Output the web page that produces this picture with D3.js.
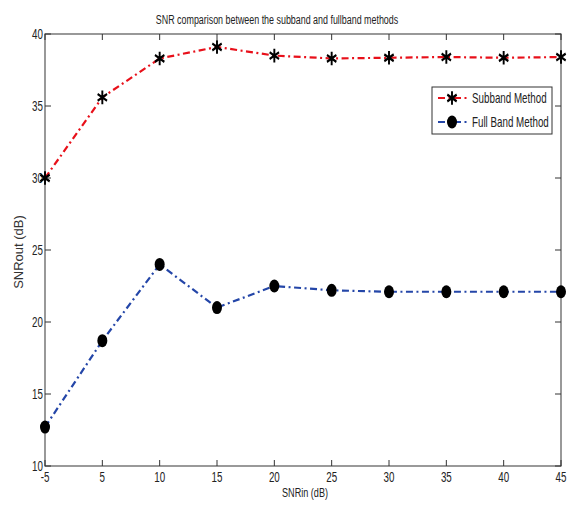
<!DOCTYPE html>
<html>
<head>
<meta charset="utf-8">
<script src="https://cdn.jsdelivr.net/npm/d3@7"></script>
<style>
  body { margin: 0; background: #fff; }
</style>
</head>
<body>
<script>
var snrIn = [-5, 5, 10, 15, 20, 25, 30, 35, 40, 45]
var subband = [30.0, 35.6, 38.3, 39.1, 38.5, 38.3, 38.35, 38.4, 38.35, 38.4]
var fullband = [12.7, 18.7, 24.0, 21.0, 22.5, 22.2, 22.1, 22.1, 22.1, 22.1]
var yTicks = [10, 15, 20, 25, 30, 35, 40]

var drawChart = function() {

  var width = 570
  var height = 508
  var padLeft = 45, padRight = 561, padTop = 34, padBottom = 466
  var squeeze = 0.7

  var svg = d3.select("body")
              .append("svg")
              .attr("width", width)
              .attr("height", height)
              .style("font-family", "Arial, 'Liberation Sans', sans-serif")

  var xScale = d3.scaleLinear()
                 .domain([0, snrIn.length - 1])
                 .range([padLeft, padRight])

  var yScale = d3.scaleLinear()
                 .domain([10, 40])
                 .range([padBottom, padTop])

  // frame
  svg.append("rect")
     .attr("x", padLeft)
     .attr("y", padTop)
     .attr("width", padRight - padLeft)
     .attr("height", padBottom - padTop)
     .attr("fill", "none")
     .attr("stroke", "#555")
     .attr("stroke-width", 1.2)

  // ticks pointing inwards on all four sides
  var xIdx = d3.range(snrIn.length)
  svg.selectAll(".xtb")
     .data(xIdx)
     .enter()
     .append("line")
     .attr("x1", function(d) { return xScale(d) })
     .attr("x2", function(d) { return xScale(d) })
     .attr("y1", padBottom)
     .attr("y2", padBottom - 6)
     .attr("stroke", "#333")
  svg.selectAll(".xtt")
     .data(xIdx)
     .enter()
     .append("line")
     .attr("x1", function(d) { return xScale(d) })
     .attr("x2", function(d) { return xScale(d) })
     .attr("y1", padTop)
     .attr("y2", padTop + 6)
     .attr("stroke", "#333")
  svg.selectAll(".ytl")
     .data(yTicks)
     .enter()
     .append("line")
     .attr("x1", padLeft)
     .attr("x2", padLeft + 6)
     .attr("y1", function(d) { return yScale(d) })
     .attr("y2", function(d) { return yScale(d) })
     .attr("stroke", "#333")
  svg.selectAll(".ytr")
     .data(yTicks)
     .enter()
     .append("line")
     .attr("x1", padRight)
     .attr("x2", padRight - 6)
     .attr("y1", function(d) { return yScale(d) })
     .attr("y2", function(d) { return yScale(d) })
     .attr("stroke", "#333")

  // tick labels (narrow, like the original)
  svg.selectAll(".xlab")
     .data(xIdx)
     .enter()
     .append("text")
     .attr("transform", function(d) {
       return "translate(" + xScale(d) + "," + (padBottom + 16) + ") scale(" + squeeze + ",1)"
     })
     .attr("text-anchor", "middle")
     .attr("font-size", 14)
     .attr("fill", "#222")
     .text(function(d) { return snrIn[d] })

  svg.selectAll(".ylab")
     .data(yTicks)
     .enter()
     .append("text")
     .attr("transform", function(d) {
       return "translate(" + (padLeft - 2) + "," + (yScale(d) + 5) + ") scale(" + squeeze + ",1)"
     })
     .attr("text-anchor", "end")
     .attr("font-size", 14)
     .attr("fill", "#222")
     .text(function(d) { return d })

  // title and axis labels
  svg.append("text")
     .attr("transform", "translate(277,24) scale(0.66,1)")
     .attr("text-anchor", "middle")
     .attr("font-size", 13.5)
     .attr("fill", "#222")
     .text("SNR comparison between the subband and fullband methods")

  svg.append("text")
     .attr("transform", "translate(305,497) scale(" + squeeze + ",1)")
     .attr("text-anchor", "middle")
     .attr("font-size", 13)
     .attr("fill", "#222")
     .text("SNRin (dB)")

  svg.append("text")
     .attr("transform", "translate(23,252) rotate(-90)")
     .attr("text-anchor", "middle")
     .attr("font-size", 13)
     .attr("fill", "#333")
     .text("SNRout (dB)")

  // lines
  var line = d3.line()
               .x(function(d, i) { return xScale(i) })
               .y(function(d) { return yScale(d) })

  svg.append("path")
     .datum(subband)
     .attr("d", line)
     .attr("fill", "none")
     .attr("stroke", "#e8101a")
     .attr("stroke-width", 2.2)
     .attr("stroke-dasharray", "7,3.5,2,3.5")

  svg.append("path")
     .datum(fullband)
     .attr("d", line)
     .attr("fill", "none")
     .attr("stroke", "#2446a8")
     .attr("stroke-width", 2.2)
     .attr("stroke-dasharray", "7,3.5,2,3.5")

  // markers (a bit taller than wide, as in the source image)
  var star = d3.symbol().type(d3.symbolAsterisk).size(130)
  svg.selectAll(".star")
     .data(subband)
     .enter()
     .append("path")
     .attr("d", star)
     .attr("transform", function(d, i) {
       return "translate(" + xScale(i) + "," + yScale(d) + ") scale(0.8,1)"
     })
     .attr("fill", "none")
     .attr("stroke", "#000")
     .attr("stroke-width", 2.4)

  svg.selectAll(".dot")
     .data(fullband)
     .enter()
     .append("ellipse")
     .attr("cx", function(d, i) { return xScale(i) })
     .attr("cy", function(d) { return yScale(d) })
     .attr("rx", 5)
     .attr("ry", 6.5)
     .attr("fill", "#000")

  // legend
  svg.append("rect")
     .attr("x", 432)
     .attr("y", 87)
     .attr("width", 120)
     .attr("height", 47)
     .attr("fill", "#fff")
     .attr("stroke", "#333")
     .attr("stroke-width", 1)

  var legendItems = [
    {name: "Subband Method", color: "#e8101a", y: 98, mark: "star"},
    {name: "Full Band Method", color: "#2446a8", y: 122, mark: "dot"}
  ]
  legendItems.forEach(function(d) {
    svg.append("line")
       .attr("x1", 438).attr("x2", 468)
       .attr("y1", d.y).attr("y2", d.y)
       .attr("stroke", d.color)
       .attr("stroke-width", 2.2)
       .attr("stroke-dasharray", "7,3.5,2,3.5")
    if (d.mark == "star") {
      svg.append("path")
         .attr("d", star)
         .attr("transform", "translate(452," + d.y + ") scale(0.8,1)")
         .attr("fill", "none")
         .attr("stroke", "#000")
         .attr("stroke-width", 2.4)
    } else {
      svg.append("ellipse")
         .attr("cx", 452).attr("cy", d.y)
         .attr("rx", 5).attr("ry", 6.5)
         .attr("fill", "#000")
    }
    svg.append("text")
       .attr("transform", "translate(472," + (d.y + 5) + ") scale(" + squeeze + ",1)")
       .attr("font-size", 14)
       .attr("fill", "#222")
       .text(d.name)
  })
}

drawChart()
</script>
</body>
</html>
